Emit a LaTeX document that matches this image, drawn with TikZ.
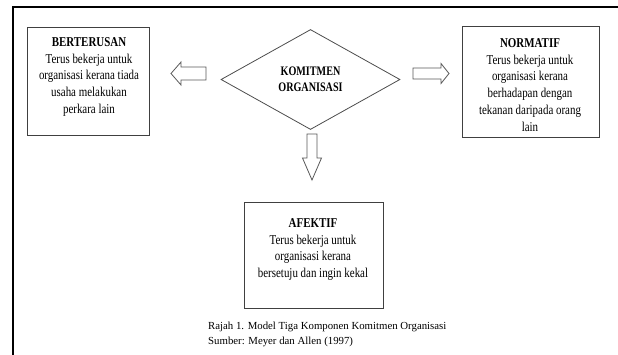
\documentclass[tikz,border=0pt]{standalone}
\usepackage{fontspec}
\setmainfont{Liberation Serif}
\newfontfamily\condfont[FakeStretch=0.78]{Liberation Serif}
\newfontfamily\boxfont[FakeStretch=0.81]{Liberation Serif}
\usetikzlibrary{shapes.geometric}

\tikzset{
  frame/.style={line width=1.8pt, draw=black},
  boxline/.style={draw=black!75, line width=1pt, inner sep=0pt},
  boxtext/.style={align=center, inner sep=0pt, anchor=north, text=black,
    font=\boxfont\fontsize{13.5}{16.8}\selectfont},
  center/.style={diamond, draw=black!70, line width=0.8pt, inner sep=0pt,
    minimum width=179pt, minimum height=100pt, align=center, text=black,
    font=\condfont\bfseries\fontsize{13}{16}\selectfont},
  blk/.style={draw=black!65, line width=0.8pt, fill=white, line join=miter},
  caption/.style={align=left, inner sep=0pt, anchor=north west, text=black,
    font=\fontsize{10.8}{15.5}\selectfont}
}

\begin{document}
\begin{tikzpicture}[x=1pt, y=-1pt]
  \useasboundingbox (0,0) rectangle (618,354);

  % open outer frame: top and left edges only
  \coordinate (fr-tl) at (13,7);
  \coordinate (fr-tr) at (620,7);
  \coordinate (fr-bl) at (13,356);
  \draw[frame] (fr-tr) -- (fr-tl) -- (fr-bl);

  % central diamond
  \node[center] (komitmen) at (310.5,79.5) {KOMITMEN\\ORGANISASI};

  % the three component boxes
  \node[boxline, minimum width=122pt, minimum height=108pt] (bert) at (88,81) {};
  \node[boxline, minimum width=137pt, minimum height=111pt] (norm) at (530.5,81.5) {};
  \node[boxline, minimum width=139pt, minimum height=106pt] (afek) at (313.5,255) {};

  \node[boxtext] (bert-t) at (89,37.2)
    {\textbf{BERTERUSAN}\\Terus bekerja untuk\\organisasi kerana tiada\\usaha melakukan\\perkara lain};
  \node[boxtext] (norm-t) at (530,38.2)
    {\textbf{NORMATIF}\\Terus bekerja untuk\\organisasi kerana\\berhadapan dengan\\tekanan daripada orang\\lain};
  \node[boxtext] (afek-t) at (313,218.2)
    {\textbf{AFEKTIF}\\Terus bekerja untuk\\organisasi kerana\\bersetuju dan ingin kekal};

  % block arrows from the diamond towards each box
  \coordinate (la) at (206,73.5);
  \draw[blk] (la) ++(0,-6.5) -- ++(-25,0) -- ++(0,-5) -- ++(-10,11.5)
    -- ++(10,11.5) -- ++(0,-5) -- ++(25,0) -- cycle;

  \coordinate (ra) at (413,73.5);
  \draw[blk] (ra) ++(0,-5.5) -- ++(28,0) -- ++(0,-4.5) -- ++(8,10)
    -- ++(-8,10) -- ++(0,-4.5) -- ++(-28,0) -- cycle;

  \coordinate (da) at (312,134);
  \draw[blk] (da) ++(-5,0) -- ++(0,24) -- ++(-4.5,0) -- ++(9.5,22)
    -- ++(9.5,-22) -- ++(-4.5,0) -- ++(0,-24) -- cycle;

  % caption
  \node[caption] (cap) at (208,321.3)
    {Rajah 1. Model Tiga Komponen Komitmen Organisasi\\Sumber: Meyer dan Allen (1997)};
\end{tikzpicture}
\end{document}
